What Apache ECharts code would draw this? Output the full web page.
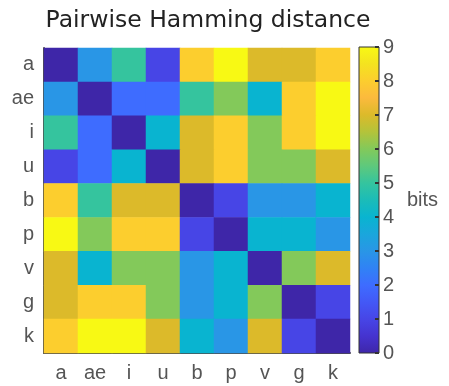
<!DOCTYPE html>
<html>
<head>
<meta charset="utf-8">
<script src="https://cdn.jsdelivr.net/npm/echarts@6/dist/echarts.min.js"></script>
<style>html,body{margin:0;padding:0;background:#fff}#c{width:449px;height:386px}</style>
</head>
<body>
<div id="c"></div>
<script>
var labels = ['a', 'ae', 'i', 'u', 'b', 'p', 'v', 'g', 'k'];
var row_a  = [0, 3, 5, 1, 8, 9, 7, 7, 8];
var row_ae = [3, 0, 2, 2, 5, 6, 4, 8, 9];
var row_i  = [5, 2, 0, 4, 7, 8, 6, 8, 9];
var row_u  = [1, 2, 4, 0, 7, 8, 6, 6, 7];
var row_b  = [8, 5, 7, 7, 0, 1, 3, 3, 4];
var row_p  = [9, 6, 8, 8, 1, 0, 4, 4, 3];
var row_v  = [7, 4, 6, 6, 3, 4, 0, 6, 7];
var row_g  = [7, 8, 8, 6, 3, 4, 6, 0, 1];
var row_k  = [8, 9, 9, 7, 4, 3, 7, 1, 0];
var rows = [row_a, row_ae, row_i, row_u, row_b, row_p, row_v, row_g, row_k];
var cbTicks = [0, 1, 2, 3, 4, 5, 6, 7, 8, 9];

var parula = ['#3e26a8','#4533cf','#4745e6','#4358f6','#3e6cff','#3082f5','#2996e6','#1aa6dc',
  '#09b4d0','#1bbcb8','#35c49e','#5ec97c','#83c95a','#b4c33a','#dcba2a','#fcba3d',
  '#fcce2e','#f4e31f','#f8f914'];

var data = [];
rows.forEach(function (r, yi) { r.forEach(function (v, xi) { data.push([xi, yi, v]); }); });

var stops = parula.map(function (c, i) { return { offset: 1 - i / (parula.length - 1), color: c }; }).reverse();

var axisCol = '#4d4d4d', txtCol = '#555';
var FONT = 'Liberation Sans, Arial';
var chart = echarts.init(document.getElementById('c'), null, { renderer: 'canvas' });
chart.setOption({
  animation: false,
  title: { text: 'Pairwise Hamming distance', left: 203, textAlign: 'center', top: 4,
    textStyle: { fontFamily: 'DejaVu Sans', fontSize: 23.5, fontWeight: 'normal', color: '#222' } },
  grid: [
    { left: 44, top: 48, width: 306, height: 305 },
    { left: 359, top: 47, width: 20, height: 306, show: true, borderColor: '#333', borderWidth: 1,
      backgroundColor: new echarts.graphic.LinearGradient(0, 0, 0, 1, stops) }
  ],
  xAxis: [
    { type: 'category', data: labels, gridIndex: 0,
      axisLine: { lineStyle: { color: axisCol, width: 2 } },
      axisTick: { alignWithLabel: true, length: 6, lineStyle: { color: axisCol, width: 2 } },
      axisLabel: { color: txtCol, fontSize: 20, margin: 10, fontFamily: FONT },
      splitLine: { show: false } },
    { type: 'value', gridIndex: 1, show: false, min: 0, max: 1 }
  ],
  yAxis: [
    { type: 'category', data: labels, inverse: true, gridIndex: 0,
      axisLine: { lineStyle: { color: axisCol, width: 2 } },
      axisTick: { alignWithLabel: true, length: 7, lineStyle: { color: axisCol, width: 2 } },
      axisLabel: { color: txtCol, fontSize: 20, margin: 10, fontFamily: FONT },
      splitLine: { show: false } },
    { type: 'value', gridIndex: 1, position: 'right', min: 0, max: 9, interval: 1,
      axisLine: { show: false },
      axisTick: { show: false },
      axisLabel: { color: txtCol, fontSize: 20, margin: 4, fontFamily: FONT,
        formatter: function (v) { return cbTicks.indexOf(v) >= 0 ? String(v) : ''; } },
      splitLine: { show: false },
      name: 'bits', nameLocation: 'middle', nameGap: 28, nameRotate: 0,
      nameTextStyle: { color: txtCol, fontSize: 20, align: 'left', fontFamily: FONT } },
    { type: 'value', gridIndex: 1, position: 'right', offset: -4, min: 0, max: 9, interval: 1,
      axisLine: { show: false },
      axisTick: { show: true, inside: false, length: 4, lineStyle: { color: '#333', width: 2 } },
      axisLabel: { show: false },
      splitLine: { show: false } }
  ],
  visualMap: { show: false, type: 'continuous', min: 0, max: 9, seriesIndex: 0, inRange: { color: parula } },
  series: [{ type: 'heatmap', xAxisIndex: 0, yAxisIndex: 0, data: data, itemStyle: { borderWidth: 0 } }]
});
</script>
</body>
</html>
